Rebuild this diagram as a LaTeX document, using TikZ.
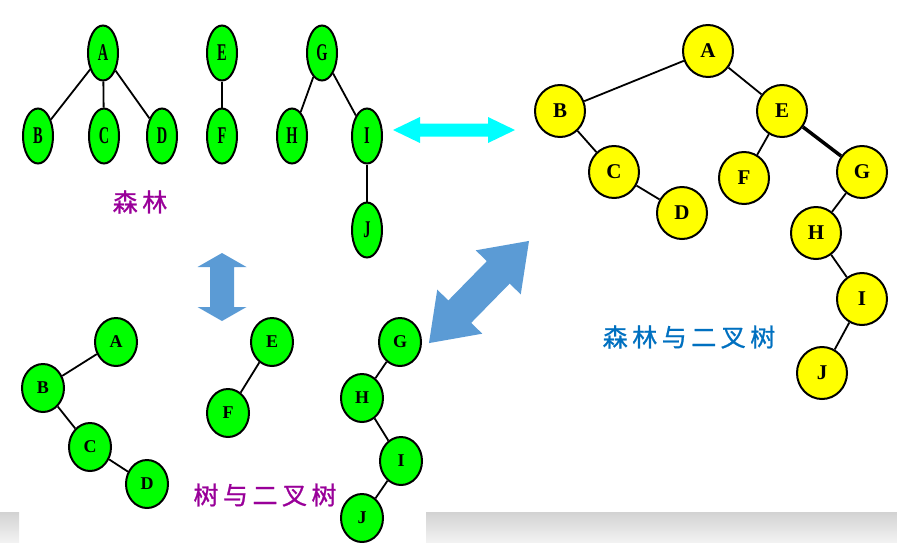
\documentclass[tikz,border=0pt]{standalone}
\usepackage{fontspec}
\setmainfont{Liberation Serif}
\newfontfamily\cjkfont[LetterSpace=18,FakeBold=1]{Noto Sans CJK SC}
\newfontfamily\condfont[FakeStretch=0.6]{Liberation Serif}
\usetikzlibrary{shapes.geometric}
\definecolor{leafgreen}{RGB}{0,255,0}
\definecolor{nodeyellow}{RGB}{255,255,0}
\definecolor{arrowcyan}{RGB}{0,255,255}
\definecolor{arrowblue}{RGB}{91,155,213}
\definecolor{labelpurple}{RGB}{153,0,153}
\definecolor{labelblue}{RGB}{0,112,192}
\newcommand{\fatarrow}[7]{\begin{scope}[shift={#1},rotate=#2]
  \fill[#7] (-#3/2,0) -- (-#3/2+#4,#5/2) -- (-#3/2+#4,#6/2) -- (#3/2-#4,#6/2) -- (#3/2-#4,#5/2) -- (#3/2,0)
    -- (#3/2-#4,-#5/2) -- (#3/2-#4,-#6/2) -- (-#3/2+#4,-#6/2) -- (-#3/2+#4,-#5/2) -- cycle;
  \end{scope}}

\begin{document}
\begin{tikzpicture}[x=1pt,y=-1pt,
    fnode/.style={ellipse, draw, line width=2, fill=leafgreen, minimum width=30, minimum height=55, inner sep=0, font=\condfont\bfseries\fontsize{24}{24}\selectfont},
    bnode/.style={ellipse, draw, line width=2, fill=leafgreen, minimum width=42, minimum height=48, inner sep=0, font=\bfseries\fontsize{18}{18}\selectfont},
    ynode/.style={ellipse, draw, line width=2, fill=nodeyellow, minimum width=50, minimum height=52, inner sep=0, font=\bfseries\fontsize{21}{21}\selectfont},
    edge/.style={line width=1.8},
    caption/.style={font=\cjkfont\fontsize{25}{25}\selectfont}]
  \useasboundingbox (0,0) rectangle (897,542);
  \shade[top color=gray!35, bottom color=gray!10] (0,512) rectangle (19,542);
  \shade[top color=gray!35, bottom color=gray!10] (426,512) rectangle (897,542);

  \node[fnode] (fA) at (103,53) {A}; \node[fnode] (fB) at (38,136) {B}; \node[fnode] (fC) at (104,136) {C}; \node[fnode] (fD) at (162,136) {D};
  \node[fnode] (fE) at (222,53) {E}; \node[fnode] (fF) at (222,136) {F};
  \node[fnode] (fG) at (322,53) {G}; \node[fnode] (fH) at (292,136) {H}; \node[fnode] (fI) at (367,136) {I}; \node[fnode] (fJ) at (367,230) {J};
  \foreach \a/\b in {fA/fB,fA/fC,fA/fD,fE/fF,fG/fH,fG/fI,fI/fJ} \draw[edge] (\a) -- (\b);
  \node[caption, text=labelpurple] (forestlabel) at (140,202) {森林};

  \node[bnode] (bA) at (116,342) {A}; \node[bnode] (bB) at (43,388) {B}; \node[bnode] (bC) at (90,447) {C}; \node[bnode] (bD) at (147,484) {D};
  \node[bnode] (bE) at (272,342) {E}; \node[bnode] (bF) at (228,413) {F};
  \node[bnode] (bG) at (400,342) {G}; \node[bnode] (bH) at (362,398) {H}; \node[bnode] (bI) at (401,461) {I}; \node[bnode] (bJ) at (362,518) {J};
  \foreach \a/\b in {bA/bB,bB/bC,bC/bD,bE/bF,bG/bH,bH/bI,bI/bJ} \draw[edge] (\a) -- (\b);
  \node[caption, text=labelpurple] (treelabel) at (265,495) {树与二叉树};

  \node[ynode] (yA) at (708,51) {A}; \node[ynode] (yB) at (560,111) {B}; \node[ynode] (yE) at (782,111) {E};
  \node[ynode] (yC) at (614,172) {C}; \node[ynode] (yD) at (682,213) {D}; \node[ynode] (yF) at (744,178) {F};
  \node[ynode] (yG) at (862,172) {G}; \node[ynode] (yH) at (816,233) {H}; \node[ynode] (yI) at (862,299) {I}; \node[ynode] (yJ) at (822,373) {J};
  \foreach \a/\b in {yA/yB,yA/yE,yB/yC,yC/yD,yE/yF,yG/yH,yH/yI,yI/yJ} \draw[edge] (\a) -- (\b);
  \draw[line width=3.5] (yE) -- (yG);
  \node[caption, text=labelblue] (binlabel) at (689,337) {森林与二叉树};

  \fatarrow{(454,130)}{0}{122}{27}{26}{13}{arrowcyan}
  \fatarrow{(222,287)}{90}{68}{14}{49}{24}{arrowblue}
  \fatarrow{(479,292)}{45.6}{143}{44}{63}{32}{arrowblue}
\end{tikzpicture}
\end{document}
